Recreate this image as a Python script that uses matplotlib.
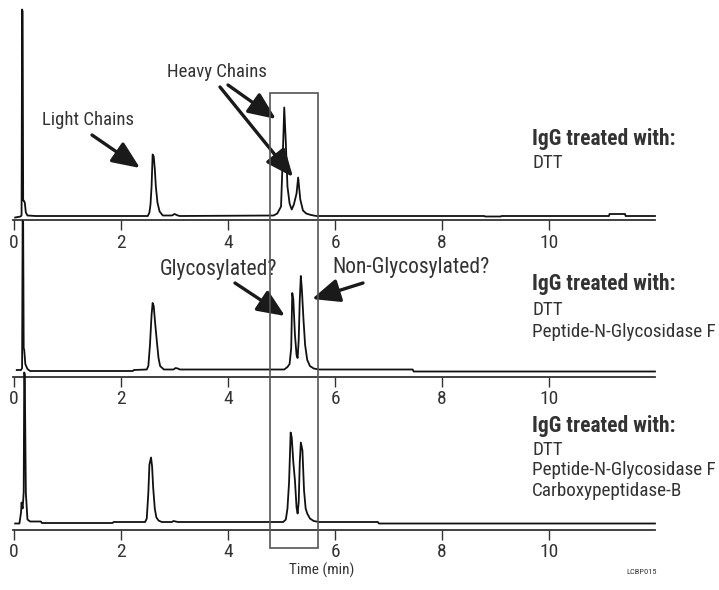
import matplotlib
matplotlib.use("Agg")
import matplotlib.pyplot as plt
import matplotlib.transforms as mtransforms
from matplotlib.patches import Rectangle, FancyArrowPatch

# figure size in pixels
W, H = 719, 590
FONT = ['Roboto Condensed', 'Archivo Narrow', 'Sofia Sans Condensed', 'DejaVu Sans']
plt.rcParams['font.family'] = FONT
TXT = '#333333'

# chromatogram traces (time in min, signal above baseline)
top_t = [0.02, 0.12, 0.14, 0.15, 0.16, 0.17, 0.18, 0.20, 0.22, 0.25, 0.40,
         2.50, 2.53, 2.55, 2.57, 2.59, 2.61, 2.63, 2.65, 2.68, 2.72, 2.78,
         2.95, 3.00, 3.06, 3.10,
         4.85, 4.92, 4.99, 5.02, 5.05, 5.08, 5.11, 5.15, 5.19, 5.23, 5.28,
         5.31, 5.35, 5.40, 5.46, 5.55, 5.65,
         8.79, 8.80, 9.10, 9.11, 11.12, 11.13, 11.42, 11.43, 11.98]
top_y = [-1, 0, 1, 207, 205, 16, 16, 14, 4, 1, 0.5,
         0.5, 4, 12, 30, 62, 60, 48, 30, 14, 5, 1,
         1, 2.5, 1, 0.5,
         1, 3, 10, 56, 109, 73, 30, 13, 7, 12, 23,
         39, 17, 6, 3, 1.5, 0.5,
         0.5, 0, 0, 0.5, 0.5, 2.5, 2.5, 0.5, 0.5]

mid_t = [0.05, 0.13, 0.15, 0.16, 0.17, 0.18, 0.19, 0.21, 0.25, 0.30, 2.22,
         2.24, 2.48, 2.51, 2.54, 2.57, 2.59, 2.61, 2.64, 2.67, 2.70, 2.73,
         2.80, 2.98, 3.02, 3.06, 3.10,
         5.05, 5.11, 5.15, 5.18, 5.20, 5.22, 5.25, 5.28, 5.30, 5.32, 5.34,
         5.36, 5.38, 5.41, 5.44, 5.48, 5.53, 5.60, 5.70, 7.45, 7.47, 11.98]
mid_y = [0, 0, 2, 149, 147, 22, 20, 6, 1, -1, -1,
         0, 0.5, 4, 25, 55, 67, 64, 45, 28, 12, 4,
         0.5, 0.5, 2, 1.5, 0.5,
         0.5, 3, 6, 22, 77, 70, 35, 15, 12, 30, 70,
         94, 80, 50, 25, 10, 4, 1.5, 0.5, 0.5, -1.5, -1.5]

bot_t = [0.02, 0.10, 0.13, 0.14, 0.16, 0.18, 0.19, 0.20, 0.22, 0.25, 0.30,
         0.50, 0.52, 1.84, 1.86, 2.45, 2.48, 2.51, 2.53, 2.56, 2.58, 2.60,
         2.63, 2.66, 2.70, 2.76, 2.95, 2.98, 3.02, 3.06,
         5.03, 5.08, 5.11, 5.14, 5.17, 5.19, 5.22, 5.25, 5.28, 5.30, 5.32,
         5.34, 5.36, 5.39, 5.42, 5.45, 5.48, 5.53, 5.60, 5.70, 6.80, 6.82,
         11.98]
bot_y = [-1, -1, 10, 20, 14, 30, 150, 148, 30, 3, 1,
         1, -0.5, -0.5, 0.5, 0.5, 4, 30, 58, 65, 56, 35,
         14, 5, 2, 0.5, 0.5, 1.5, 1, 0.5,
         0.5, 3, 14, 40, 90, 85, 60, 42, 15, 9, 20,
         60, 80, 72, 32, 14, 9, 4, 1.5, 0.5, 0.5, -1, -1]

xticks = [0, 2, 4, 6, 8, 10]

treatments = [["DTT"],
              ["DTT", "Peptide-N-Glycosidase F"],
              ["DTT", "Peptide-N-Glycosidase F", "Carboxypeptidase-B"]]


def fx(x):
    return x / W


def fy(y):
    return 1 - y / H


fig = plt.figure(figsize=(W / 100, H / 100), dpi=100)


def make_panel(spine_y, base_off, height):
    # spine_y: pixel row of the axis line, base_off: baseline above it
    ax = fig.add_axes([fx(13), fy(spine_y), 642 / W, height / H])
    ax.set_xlim(-0.02, 11.98)
    ax.set_ylim(-base_off, height - base_off)
    for s in ['top', 'right', 'left']:
        ax.spines[s].set_visible(False)
    ax.spines['bottom'].set_color('#333333')
    ax.spines['bottom'].set_linewidth(1.3)
    ax.set_yticks([])
    ax.set_xticks(xticks)
    ax.set_xticklabels([str(v) for v in xticks])
    ax.tick_params(axis='x', direction='out', length=7, width=1, color='#333333',
                   labelsize=14, labelcolor=TXT, pad=3)
    ax.patch.set_visible(False)
    return ax


ax1 = make_panel(220.5, 4, 215.5)
ax2 = make_panel(376.5, 6.5, 150)
ax3 = make_panel(529.5, 7, 150)

for ax, t, y in [(ax1, top_t, top_y), (ax2, mid_t, mid_y), (ax3, bot_t, bot_y)]:
    ax.plot(t, y, color='#111111', lw=1.3, clip_on=False)

# box round the heavy chain region
blend = mtransforms.blended_transform_factory(ax1.transData, fig.transFigure)
box = Rectangle((4.78, fy(548)), 0.9, fy(93) - fy(548), transform=blend,
                fill=False, ec='#555555', lw=1.2, clip_on=False, zorder=5)
fig.add_artist(box)

# annotations
fig.text(fx(42), fy(120), "Light Chains", fontsize=13.5, color=TXT, va='center')
fig.text(fx(167), fy(72), "Heavy Chains", fontsize=13.5, color=TXT, va='center')
fig.text(fx(160), fy(269), "Glycosylated?", fontsize=15.5, color=TXT, va='center')
fig.text(fx(332), fy(267), "Non-Glycosylated?", fontsize=15.5, color=TXT, va='center')

arrows = [((92, 135), (140, 168)),
          ((228, 85), (276, 119)),
          ((220, 87), (293, 177)),
          ((235, 283), (285, 316)),
          ((363, 283), (312, 299))]
for (x0, y0), (x1, y1) in arrows:
    fig.add_artist(FancyArrowPatch((fx(x0), fy(y0)), (fx(x1), fy(y1)),
                                   transform=fig.transFigure,
                                   arrowstyle='-|>,head_length=1.4,head_width=0.6',
                                   mutation_scale=12, lw=2.4, color='#1a1a1a',
                                   shrinkA=0, shrinkB=0))

# treatment labels
label_rows = [(139, [163]), (284, [310, 332]), (426, [450, 470, 491])]
for (hy, rows), lines in zip(label_rows, treatments):
    fig.text(fx(532), fy(hy), "IgG treated with:", fontsize=15.5, weight='bold',
             color=TXT, va='center')
    for ry, s in zip(rows, lines):
        fig.text(fx(532), fy(ry), s, fontsize=13.8, color=TXT, va='center')

fig.text(fx(322), fy(570), "Time (min)", fontsize=11, color=TXT,
         ha='center', va='center')
fig.text(fx(657), fy(572), "LCBP015", fontsize=6, color=TXT,
         ha='right', va='center')

fig.savefig("out.png", dpi=100)
